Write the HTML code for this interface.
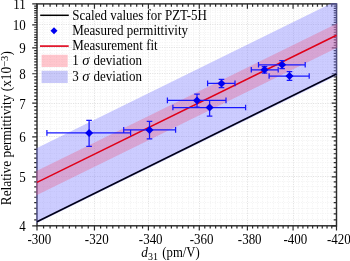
<!DOCTYPE html><html><head><meta charset="utf-8"><style>html,body{margin:0;padding:0;background:#fff;overflow:hidden}svg{display:block;will-change:transform}text{font-family:"Liberation Serif",serif;fill:#000}</style></head><body>
<svg width="350" height="261" viewBox="0 0 350 261">
<defs><clipPath id="c"><rect x="36.2" y="3.0999999999999996" width="301.1" height="223.5"/></clipPath></defs>
<g stroke-width="1" stroke-dasharray="1.2,1.2"><line x1="43.5" y1="3.9" x2="43.5" y2="225.8" stroke="#f4f4f4"/><line x1="50.5" y1="3.9" x2="50.5" y2="225.8" stroke="#f4f4f4"/><line x1="56.5" y1="3.9" x2="56.5" y2="225.8" stroke="#f4f4f4"/><line x1="62.5" y1="3.9" x2="62.5" y2="225.8" stroke="#f4f4f4"/><line x1="69.5" y1="3.9" x2="69.5" y2="225.8" stroke="#f4f4f4"/><line x1="75.5" y1="3.9" x2="75.5" y2="225.8" stroke="#f4f4f4"/><line x1="81.5" y1="3.9" x2="81.5" y2="225.8" stroke="#f4f4f4"/><line x1="88.5" y1="3.9" x2="88.5" y2="225.8" stroke="#f4f4f4"/><line x1="94.5" y1="3.9" x2="94.5" y2="225.8" stroke="#e2e2e2"/><line x1="100.5" y1="3.9" x2="100.5" y2="225.8" stroke="#f4f4f4"/><line x1="106.5" y1="3.9" x2="106.5" y2="225.8" stroke="#f4f4f4"/><line x1="112.5" y1="3.9" x2="112.5" y2="225.8" stroke="#f4f4f4"/><line x1="118.5" y1="3.9" x2="118.5" y2="225.8" stroke="#f4f4f4"/><line x1="124.5" y1="3.9" x2="124.5" y2="225.8" stroke="#f4f4f4"/><line x1="130.5" y1="3.9" x2="130.5" y2="225.8" stroke="#f4f4f4"/><line x1="136.5" y1="3.9" x2="136.5" y2="225.8" stroke="#f4f4f4"/><line x1="142.5" y1="3.9" x2="142.5" y2="225.8" stroke="#f4f4f4"/><line x1="148.5" y1="3.9" x2="148.5" y2="225.8" stroke="#e2e2e2"/><line x1="154.5" y1="3.9" x2="154.5" y2="225.8" stroke="#f4f4f4"/><line x1="159.5" y1="3.9" x2="159.5" y2="225.8" stroke="#f4f4f4"/><line x1="165.5" y1="3.9" x2="165.5" y2="225.8" stroke="#f4f4f4"/><line x1="171.5" y1="3.9" x2="171.5" y2="225.8" stroke="#f4f4f4"/><line x1="177.5" y1="3.9" x2="177.5" y2="225.8" stroke="#f4f4f4"/><line x1="182.5" y1="3.9" x2="182.5" y2="225.8" stroke="#f4f4f4"/><line x1="188.5" y1="3.9" x2="188.5" y2="225.8" stroke="#f4f4f4"/><line x1="193.5" y1="3.9" x2="193.5" y2="225.8" stroke="#f4f4f4"/><line x1="199.5" y1="3.9" x2="199.5" y2="225.8" stroke="#e2e2e2"/><line x1="204.5" y1="3.9" x2="204.5" y2="225.8" stroke="#f4f4f4"/><line x1="210.5" y1="3.9" x2="210.5" y2="225.8" stroke="#f4f4f4"/><line x1="215.5" y1="3.9" x2="215.5" y2="225.8" stroke="#f4f4f4"/><line x1="220.5" y1="3.9" x2="220.5" y2="225.8" stroke="#f4f4f4"/><line x1="226.5" y1="3.9" x2="226.5" y2="225.8" stroke="#f4f4f4"/><line x1="231.5" y1="3.9" x2="231.5" y2="225.8" stroke="#f4f4f4"/><line x1="236.5" y1="3.9" x2="236.5" y2="225.8" stroke="#f4f4f4"/><line x1="242.5" y1="3.9" x2="242.5" y2="225.8" stroke="#f4f4f4"/><line x1="247.5" y1="3.9" x2="247.5" y2="225.8" stroke="#e2e2e2"/><line x1="252.5" y1="3.9" x2="252.5" y2="225.8" stroke="#f4f4f4"/><line x1="257.5" y1="3.9" x2="257.5" y2="225.8" stroke="#f4f4f4"/><line x1="262.5" y1="3.9" x2="262.5" y2="225.8" stroke="#f4f4f4"/><line x1="267.5" y1="3.9" x2="267.5" y2="225.8" stroke="#f4f4f4"/><line x1="273.5" y1="3.9" x2="273.5" y2="225.8" stroke="#f4f4f4"/><line x1="278.5" y1="3.9" x2="278.5" y2="225.8" stroke="#f4f4f4"/><line x1="283.5" y1="3.9" x2="283.5" y2="225.8" stroke="#f4f4f4"/><line x1="288.5" y1="3.9" x2="288.5" y2="225.8" stroke="#f4f4f4"/><line x1="293.5" y1="3.9" x2="293.5" y2="225.8" stroke="#e2e2e2"/><line x1="298.5" y1="3.9" x2="298.5" y2="225.8" stroke="#f4f4f4"/><line x1="302.5" y1="3.9" x2="302.5" y2="225.8" stroke="#f4f4f4"/><line x1="307.5" y1="3.9" x2="307.5" y2="225.8" stroke="#f4f4f4"/><line x1="312.5" y1="3.9" x2="312.5" y2="225.8" stroke="#f4f4f4"/><line x1="317.5" y1="3.9" x2="317.5" y2="225.8" stroke="#f4f4f4"/><line x1="322.5" y1="3.9" x2="322.5" y2="225.8" stroke="#f4f4f4"/><line x1="327.5" y1="3.9" x2="327.5" y2="225.8" stroke="#f4f4f4"/><line x1="331.5" y1="3.9" x2="331.5" y2="225.8" stroke="#f4f4f4"/><line x1="37.0" y1="219.5" x2="336.5" y2="219.5" stroke="#f4f4f4"/><line x1="37.0" y1="213.5" x2="336.5" y2="213.5" stroke="#f4f4f4"/><line x1="37.0" y1="208.5" x2="336.5" y2="208.5" stroke="#f4f4f4"/><line x1="37.0" y1="202.5" x2="336.5" y2="202.5" stroke="#f4f4f4"/><line x1="37.0" y1="197.5" x2="336.5" y2="197.5" stroke="#f4f4f4"/><line x1="37.0" y1="191.5" x2="336.5" y2="191.5" stroke="#f4f4f4"/><line x1="37.0" y1="186.5" x2="336.5" y2="186.5" stroke="#f4f4f4"/><line x1="37.0" y1="181.5" x2="336.5" y2="181.5" stroke="#f4f4f4"/><line x1="37.0" y1="176.5" x2="336.5" y2="176.5" stroke="#e2e2e2"/><line x1="37.0" y1="172.5" x2="336.5" y2="172.5" stroke="#f4f4f4"/><line x1="37.0" y1="167.5" x2="336.5" y2="167.5" stroke="#f4f4f4"/><line x1="37.0" y1="162.5" x2="336.5" y2="162.5" stroke="#f4f4f4"/><line x1="37.0" y1="158.5" x2="336.5" y2="158.5" stroke="#f4f4f4"/><line x1="37.0" y1="153.5" x2="336.5" y2="153.5" stroke="#f4f4f4"/><line x1="37.0" y1="149.5" x2="336.5" y2="149.5" stroke="#f4f4f4"/><line x1="37.0" y1="145.5" x2="336.5" y2="145.5" stroke="#f4f4f4"/><line x1="37.0" y1="140.5" x2="336.5" y2="140.5" stroke="#f4f4f4"/><line x1="37.0" y1="136.5" x2="336.5" y2="136.5" stroke="#e2e2e2"/><line x1="37.0" y1="132.5" x2="336.5" y2="132.5" stroke="#f4f4f4"/><line x1="37.0" y1="128.5" x2="336.5" y2="128.5" stroke="#f4f4f4"/><line x1="37.0" y1="124.5" x2="336.5" y2="124.5" stroke="#f4f4f4"/><line x1="37.0" y1="121.5" x2="336.5" y2="121.5" stroke="#f4f4f4"/><line x1="37.0" y1="117.5" x2="336.5" y2="117.5" stroke="#f4f4f4"/><line x1="37.0" y1="113.5" x2="336.5" y2="113.5" stroke="#f4f4f4"/><line x1="37.0" y1="110.5" x2="336.5" y2="110.5" stroke="#f4f4f4"/><line x1="37.0" y1="106.5" x2="336.5" y2="106.5" stroke="#f4f4f4"/><line x1="37.0" y1="103.5" x2="336.5" y2="103.5" stroke="#e2e2e2"/><line x1="37.0" y1="99.5" x2="336.5" y2="99.5" stroke="#f4f4f4"/><line x1="37.0" y1="96.5" x2="336.5" y2="96.5" stroke="#f4f4f4"/><line x1="37.0" y1="92.5" x2="336.5" y2="92.5" stroke="#f4f4f4"/><line x1="37.0" y1="89.5" x2="336.5" y2="89.5" stroke="#f4f4f4"/><line x1="37.0" y1="86.5" x2="336.5" y2="86.5" stroke="#f4f4f4"/><line x1="37.0" y1="83.5" x2="336.5" y2="83.5" stroke="#f4f4f4"/><line x1="37.0" y1="79.5" x2="336.5" y2="79.5" stroke="#f4f4f4"/><line x1="37.0" y1="76.5" x2="336.5" y2="76.5" stroke="#f4f4f4"/><line x1="37.0" y1="73.5" x2="336.5" y2="73.5" stroke="#e2e2e2"/><line x1="37.0" y1="70.5" x2="336.5" y2="70.5" stroke="#f4f4f4"/><line x1="37.0" y1="67.5" x2="336.5" y2="67.5" stroke="#f4f4f4"/><line x1="37.0" y1="64.5" x2="336.5" y2="64.5" stroke="#f4f4f4"/><line x1="37.0" y1="61.5" x2="336.5" y2="61.5" stroke="#f4f4f4"/><line x1="37.0" y1="59.5" x2="336.5" y2="59.5" stroke="#f4f4f4"/><line x1="37.0" y1="56.5" x2="336.5" y2="56.5" stroke="#f4f4f4"/><line x1="37.0" y1="53.5" x2="336.5" y2="53.5" stroke="#f4f4f4"/><line x1="37.0" y1="50.5" x2="336.5" y2="50.5" stroke="#f4f4f4"/><line x1="37.0" y1="47.5" x2="336.5" y2="47.5" stroke="#e2e2e2"/><line x1="37.0" y1="45.5" x2="336.5" y2="45.5" stroke="#f4f4f4"/><line x1="37.0" y1="42.5" x2="336.5" y2="42.5" stroke="#f4f4f4"/><line x1="37.0" y1="39.5" x2="336.5" y2="39.5" stroke="#f4f4f4"/><line x1="37.0" y1="37.5" x2="336.5" y2="37.5" stroke="#f4f4f4"/><line x1="37.0" y1="34.5" x2="336.5" y2="34.5" stroke="#f4f4f4"/><line x1="37.0" y1="32.5" x2="336.5" y2="32.5" stroke="#f4f4f4"/><line x1="37.0" y1="29.5" x2="336.5" y2="29.5" stroke="#f4f4f4"/><line x1="37.0" y1="27.5" x2="336.5" y2="27.5" stroke="#f4f4f4"/><line x1="37.0" y1="24.5" x2="336.5" y2="24.5" stroke="#e2e2e2"/><line x1="37.0" y1="22.5" x2="336.5" y2="22.5" stroke="#f4f4f4"/><line x1="37.0" y1="19.5" x2="336.5" y2="19.5" stroke="#f4f4f4"/><line x1="37.0" y1="17.5" x2="336.5" y2="17.5" stroke="#f4f4f4"/><line x1="37.0" y1="15.5" x2="336.5" y2="15.5" stroke="#f4f4f4"/><line x1="37.0" y1="12.5" x2="336.5" y2="12.5" stroke="#f4f4f4"/><line x1="37.0" y1="10.5" x2="336.5" y2="10.5" stroke="#f4f4f4"/><line x1="37.0" y1="8.5" x2="336.5" y2="8.5" stroke="#f4f4f4"/><line x1="37.0" y1="6.5" x2="336.5" y2="6.5" stroke="#f4f4f4"/></g>
<rect x="37.0" y="3.9" width="299.5" height="221.9" fill="none" stroke="#2a2a2a" stroke-width="1.45"/>
<path d="M37 225.8v4.8M37 3.9v4.8M43.57 225.8v2.8M43.57 3.9v2.8M50.09 225.8v2.8M50.09 3.9v2.8M56.56 225.8v2.8M56.56 3.9v2.8M62.99 225.8v2.8M62.99 3.9v2.8M69.37 225.8v2.8M69.37 3.9v2.8M75.71 225.8v2.8M75.71 3.9v2.8M82 225.8v2.8M82 3.9v2.8M88.24 225.8v2.8M88.24 3.9v2.8M94.45 225.8v4.8M94.45 3.9v4.8M100.61 225.8v2.8M100.61 3.9v2.8M106.72 225.8v2.8M106.72 3.9v2.8M112.8 225.8v2.8M112.8 3.9v2.8M118.84 225.8v2.8M118.84 3.9v2.8M124.83 225.8v2.8M124.83 3.9v2.8M130.78 225.8v2.8M130.78 3.9v2.8M136.7 225.8v2.8M136.7 3.9v2.8M142.57 225.8v2.8M142.57 3.9v2.8M148.41 225.8v4.8M148.41 3.9v4.8M154.21 225.8v2.8M154.21 3.9v2.8M159.97 225.8v2.8M159.97 3.9v2.8M165.69 225.8v2.8M165.69 3.9v2.8M171.38 225.8v2.8M171.38 3.9v2.8M177.03 225.8v2.8M177.03 3.9v2.8M182.65 225.8v2.8M182.65 3.9v2.8M188.23 225.8v2.8M188.23 3.9v2.8M193.78 225.8v2.8M193.78 3.9v2.8M199.29 225.8v4.8M199.29 3.9v4.8M204.77 225.8v2.8M204.77 3.9v2.8M210.21 225.8v2.8M210.21 3.9v2.8M215.62 225.8v2.8M215.62 3.9v2.8M221 225.8v2.8M221 3.9v2.8M226.35 225.8v2.8M226.35 3.9v2.8M231.66 225.8v2.8M231.66 3.9v2.8M236.94 225.8v2.8M236.94 3.9v2.8M242.19 225.8v2.8M242.19 3.9v2.8M247.41 225.8v4.8M247.41 3.9v4.8M252.6 225.8v2.8M252.6 3.9v2.8M257.76 225.8v2.8M257.76 3.9v2.8M262.89 225.8v2.8M262.89 3.9v2.8M268 225.8v2.8M268 3.9v2.8M273.07 225.8v2.8M273.07 3.9v2.8M278.11 225.8v2.8M278.11 3.9v2.8M283.13 225.8v2.8M283.13 3.9v2.8M288.11 225.8v2.8M288.11 3.9v2.8M293.07 225.8v4.8M293.07 3.9v4.8M298 225.8v2.8M298 3.9v2.8M302.91 225.8v2.8M302.91 3.9v2.8M307.78 225.8v2.8M307.78 3.9v2.8M312.63 225.8v2.8M312.63 3.9v2.8M317.46 225.8v2.8M317.46 3.9v2.8M322.26 225.8v2.8M322.26 3.9v2.8M327.03 225.8v2.8M327.03 3.9v2.8M331.78 225.8v2.8M331.78 3.9v2.8M336.5 225.8v4.8M336.5 3.9v4.8M37 225.8h-4.8M336.5 225.8h-4.8M37 219.79h-2.8M336.5 219.79h-2.8M37 213.94h-2.8M336.5 213.94h-2.8M37 208.24h-2.8M336.5 208.24h-2.8M37 202.69h-2.8M336.5 202.69h-2.8M37 197.27h-2.8M336.5 197.27h-2.8M37 191.99h-2.8M336.5 191.99h-2.8M37 186.82h-2.8M336.5 186.82h-2.8M37 181.78h-2.8M336.5 181.78h-2.8M37 176.85h-4.8M336.5 176.85h-4.8M37 172.03h-2.8M336.5 172.03h-2.8M37 167.31h-2.8M336.5 167.31h-2.8M37 162.7h-2.8M336.5 162.7h-2.8M37 158.17h-2.8M336.5 158.17h-2.8M37 153.74h-2.8M336.5 153.74h-2.8M37 149.4h-2.8M336.5 149.4h-2.8M37 145.14h-2.8M336.5 145.14h-2.8M37 140.96h-2.8M336.5 140.96h-2.8M37 136.86h-4.8M336.5 136.86h-4.8M37 132.83h-2.8M336.5 132.83h-2.8M37 128.88h-2.8M336.5 128.88h-2.8M37 125h-2.8M336.5 125h-2.8M37 121.18h-2.8M336.5 121.18h-2.8M37 117.43h-2.8M336.5 117.43h-2.8M37 113.75h-2.8M336.5 113.75h-2.8M37 110.12h-2.8M336.5 110.12h-2.8M37 106.56h-2.8M336.5 106.56h-2.8M37 103.05h-4.8M336.5 103.05h-4.8M37 99.59h-2.8M336.5 99.59h-2.8M37 96.19h-2.8M336.5 96.19h-2.8M37 92.84h-2.8M336.5 92.84h-2.8M37 89.54h-2.8M336.5 89.54h-2.8M37 86.29h-2.8M336.5 86.29h-2.8M37 83.09h-2.8M336.5 83.09h-2.8M37 79.93h-2.8M336.5 79.93h-2.8M37 76.82h-2.8M336.5 76.82h-2.8M37 73.75h-4.8M336.5 73.75h-4.8M37 70.73h-2.8M336.5 70.73h-2.8M37 67.74h-2.8M336.5 67.74h-2.8M37 64.8h-2.8M336.5 64.8h-2.8M37 61.89h-2.8M336.5 61.89h-2.8M37 59.03h-2.8M336.5 59.03h-2.8M37 56.2h-2.8M336.5 56.2h-2.8M37 53.4h-2.8M336.5 53.4h-2.8M37 50.64h-2.8M336.5 50.64h-2.8M37 47.92h-4.8M336.5 47.92h-4.8M37 45.23h-2.8M336.5 45.23h-2.8M37 42.57h-2.8M336.5 42.57h-2.8M37 39.94h-2.8M336.5 39.94h-2.8M37 37.34h-2.8M336.5 37.34h-2.8M37 34.78h-2.8M336.5 34.78h-2.8M37 32.24h-2.8M336.5 32.24h-2.8M37 29.74h-2.8M336.5 29.74h-2.8M37 27.26h-2.8M336.5 27.26h-2.8M37 24.81h-4.8M336.5 24.81h-4.8M37 22.38h-2.8M336.5 22.38h-2.8M37 19.99h-2.8M336.5 19.99h-2.8M37 17.61h-2.8M336.5 17.61h-2.8M37 15.27h-2.8M336.5 15.27h-2.8M37 12.95h-2.8M336.5 12.95h-2.8M37 10.65h-2.8M336.5 10.65h-2.8M37 8.38h-2.8M336.5 8.38h-2.8M37 6.13h-2.8M336.5 6.13h-2.8M37 3.9h-4.8M336.5 3.9h-4.8" stroke="#2a2a2a" stroke-width="1.2" fill="none"/>
<g clip-path="url(#c)">
<polygon points="35,148.88 338.5,-0.18 338.5,74.82 35,223.88" fill="#8080ff" fill-opacity="0.4"/>
<polygon points="35,171.78 338.5,22.72 338.5,46.92 35,195.98" fill="#eb5d84" fill-opacity="0.35"/>
<line x1="37.0" y1="182.4" x2="336.5" y2="35.3" stroke="#e00018" stroke-width="1.6"/>
<line x1="37.0" y1="221.8" x2="336.5" y2="74.0" stroke="#000018" stroke-width="1.65"/>
</g>
<path d="M46.9 132.9H130.6M89.1 120.4V146.3M46.9 130.1V135.7M130.6 130.1V135.7M86.3 120.4H91.9M86.3 146.3H91.9M123.7 129.9H175.6M149.5 121.4V138.8M123.7 127.1V132.7M175.6 127.1V132.7M146.7 121.4H152.3M146.7 138.8H152.3M167.4 100.4H226M197 94V107M167.4 97.6V103.2M226 97.6V103.2M194.2 94H199.8M194.2 107H199.8M172.9 107.5H245.6M209.6 100.3V116M172.9 104.7V110.3M245.6 104.7V110.3M206.8 100.3H212.4M206.8 116H212.4M207.6 83.4H235M221.5 79.3V87.5M207.6 80.6V86.2M235 80.6V86.2M218.7 79.3H224.3M218.7 87.5H224.3M251.3 69.8H278.2M264.5 66.6V73.2M251.3 67V72.6M278.2 67V72.6M261.7 66.6H267.3M261.7 73.2H267.3M258.5 64.8H305.2M282.1 60.6V68.5M258.5 62V67.6M305.2 62V67.6M279.3 60.6H284.9M279.3 68.5H284.9M269.1 76H309.2M289.5 71.6V80.4M269.1 73.2V78.8M309.2 73.2V78.8M286.7 71.6H292.3M286.7 80.4H292.3" stroke="#1818ff" stroke-width="1.25" fill="none"/>
<polygon points="89.1,128.9 93.1,132.9 89.1,136.9 85.1,132.9" fill="#0000f0"/>
<polygon points="149.5,125.9 153.5,129.9 149.5,133.9 145.5,129.9" fill="#0000f0"/>
<polygon points="197,96.4 201,100.4 197,104.4 193,100.4" fill="#0000f0"/>
<polygon points="209.6,103.5 213.6,107.5 209.6,111.5 205.6,107.5" fill="#0000f0"/>
<polygon points="221.5,79.4 225.5,83.4 221.5,87.4 217.5,83.4" fill="#0000f0"/>
<polygon points="264.5,65.8 268.5,69.8 264.5,73.8 260.5,69.8" fill="#0000f0"/>
<polygon points="282.1,60.8 286.1,64.8 282.1,68.8 278.1,64.8" fill="#0000f0"/>
<polygon points="289.5,72 293.5,76 289.5,80 285.5,76" fill="#0000f0"/>
<line x1="40.2" y1="15.3" x2="68.8" y2="15.3" stroke="#000" stroke-width="1.5"/>
<polygon points="54,27.35 57.5,30.85 54,34.35 50.5,30.85" fill="#0000f0"/>
<line x1="40" y1="46.1" x2="68.7" y2="46.1" stroke="#e00018" stroke-width="1.6"/>
<rect x="41.6" y="54.8" width="26.1" height="12.2" fill="#ff8090" fill-opacity="0.45"/>
<rect x="41.6" y="70.8" width="26.1" height="12.2" fill="#7878f0" fill-opacity="0.4"/>
<text transform="translate(72.3,19.6) scale(0.915,1)" font-size="14.2">Scaled values for PZT-5H</text>
<text transform="translate(72.3,34.85) scale(0.915,1)" font-size="14.2">Measured permittivity</text>
<text transform="translate(72.3,50.1) scale(0.915,1)" font-size="14.2">Measurement fit</text>
<text transform="translate(72.3,65.35) scale(0.915,1)" font-size="14.2">1</text>
<text transform="translate(82.2,65.35) scale(0.95,1)" font-size="15.5" font-style="italic">σ</text>
<text transform="translate(93.6,65.35) scale(0.915,1)" font-size="14.2">deviation</text>
<text transform="translate(72.3,80.6) scale(0.915,1)" font-size="14.2">3</text>
<text transform="translate(82.2,80.6) scale(0.95,1)" font-size="15.5" font-style="italic">σ</text>
<text transform="translate(93.6,80.6) scale(0.915,1)" font-size="14.2">deviation</text>
<text transform="translate(39.3,243.7) scale(0.915,1)" font-size="14.2" text-anchor="middle">-300</text>
<text transform="translate(96.75,243.7) scale(0.915,1)" font-size="14.2" text-anchor="middle">-320</text>
<text transform="translate(150.71,243.7) scale(0.915,1)" font-size="14.2" text-anchor="middle">-340</text>
<text transform="translate(201.59,243.7) scale(0.915,1)" font-size="14.2" text-anchor="middle">-360</text>
<text transform="translate(249.71,243.7) scale(0.915,1)" font-size="14.2" text-anchor="middle">-380</text>
<text transform="translate(295.37,243.7) scale(0.915,1)" font-size="14.2" text-anchor="middle">-400</text>
<text transform="translate(338.8,243.7) scale(0.915,1)" font-size="14.2" text-anchor="middle">-420</text>
<text transform="translate(25.8,231.3) scale(0.915,1)" font-size="14.2" text-anchor="end">4</text>
<text transform="translate(25.8,182.35) scale(0.915,1)" font-size="14.2" text-anchor="end">5</text>
<text transform="translate(25.8,142.36) scale(0.915,1)" font-size="14.2" text-anchor="end">6</text>
<text transform="translate(25.8,108.55) scale(0.915,1)" font-size="14.2" text-anchor="end">7</text>
<text transform="translate(25.8,79.25) scale(0.915,1)" font-size="14.2" text-anchor="end">8</text>
<text transform="translate(25.8,53.42) scale(0.915,1)" font-size="14.2" text-anchor="end">9</text>
<text transform="translate(25.8,30.31) scale(0.915,1)" font-size="14.2" text-anchor="end">10</text>
<text transform="translate(25.8,9.4) scale(0.915,1)" font-size="14.2" text-anchor="end">11</text>
<text transform="translate(141.3,256.5) scale(0.93,1)" font-size="14.3"><tspan font-style="italic">d</tspan><tspan font-size="10.8" dy="3.3">31</tspan></text><text transform="translate(162.3,256.5) scale(0.93,1)" font-size="14.2" textLength="40.3" lengthAdjust="spacingAndGlyphs">(pm/V)</text>
<text transform="translate(11.2,205.2) rotate(-90) scale(0.98,1)" font-size="13.6">Relative permittivity (x10<tspan font-size="10.8" dy="-3.6">−3</tspan><tspan dy="3.6">)</tspan></text>
</svg></body></html>
